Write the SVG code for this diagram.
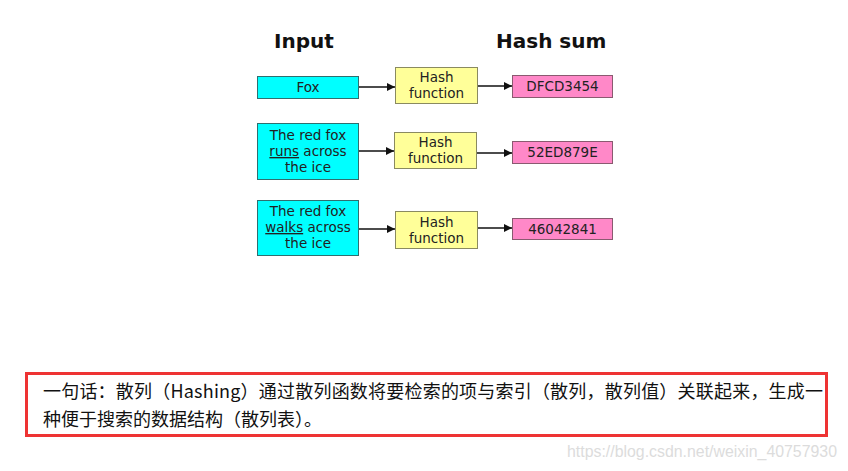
<svg xmlns="http://www.w3.org/2000/svg" width="848" height="471" viewBox="0 0 848 471">
<style>
.bg{fill:#fff}
.h{font-family:"DejaVu Sans",Verdana,sans-serif;font-weight:bold;font-size:20px;fill:#111}
.t{font-family:"DejaVu Sans",Verdana,sans-serif;font-size:13.5px;fill:#222;text-anchor:middle}
.in{fill:#00ffff;stroke:#2f6f6f;stroke-width:1}
.fn{fill:#ffff99;stroke:#8a8a60;stroke-width:1}
.out{fill:#ff88c8;stroke:#8a5a70;stroke-width:1}
.c{stroke:#111;stroke-width:1.3;fill:none;marker-end:url(#ah)}
.cn{font-family:"Noto Sans CJK SC","Microsoft YaHei",sans-serif;font-size:18px;fill:#111}
.wm{font-family:"Liberation Sans",Arial,sans-serif;font-size:16px;fill:#dcdcdc}
</style>
<defs>
<marker id="ah" viewBox="0 0 10 10" refX="10" refY="5" markerWidth="10" markerHeight="8" markerUnits="userSpaceOnUse" orient="auto">
<path d="M0,0 L10,5 L0,10 Z" fill="#111"/>
</marker>
</defs>
<rect class="bg" x="0" y="0" width="848" height="471"/>
<text class="h" x="274" y="48">Input</text>
<text class="h" x="496" y="48">Hash sum</text>
<g id="connectors">
<line class="c" x1="359" y1="87" x2="395" y2="87"/>
<line class="c" x1="478" y1="86" x2="512" y2="86"/>
<line class="c" x1="359" y1="151" x2="394" y2="151"/>
<line class="c" x1="477" y1="153" x2="512" y2="153"/>
<line class="c" x1="359" y1="229" x2="395" y2="229"/>
<line class="c" x1="477" y1="228" x2="512" y2="228"/>
</g>
<g id="in1"><rect class="in" x="257.5" y="76.5" width="101" height="22"/><text class="t" x="308" y="92">Fox</text></g>
<g id="fn1"><rect class="fn" x="395.5" y="67.5" width="82" height="36"/><text class="t" x="436.5" y="82">Hash</text><text class="t" x="436.5" y="98">function</text></g>
<g id="out1"><rect class="out" x="512.5" y="75.5" width="100" height="22"/><text class="t" x="562.5" y="91">DFCD3454</text></g>
<g id="in2"><rect class="in" x="257.5" y="123.5" width="101" height="56"/><text class="t" x="308" y="140">The red fox</text><text class="t" x="308" y="156"><tspan text-decoration="underline">runs</tspan> across</text><text class="t" x="308" y="172">the ice</text></g>
<g id="fn2"><rect class="fn" x="394.5" y="132.5" width="82" height="36"/><text class="t" x="435.5" y="147">Hash</text><text class="t" x="435.5" y="163">function</text></g>
<g id="out2"><rect class="out" x="512.5" y="141.5" width="100" height="22"/><text class="t" x="562.5" y="157">52ED879E</text></g>
<g id="in3"><rect class="in" x="257.5" y="200.5" width="101" height="55"/><text class="t" x="308" y="216">The red fox</text><text class="t" x="308" y="232"><tspan text-decoration="underline">walks</tspan> across</text><text class="t" x="308" y="248">the ice</text></g>
<g id="fn3"><rect class="fn" x="395.5" y="211.5" width="82" height="37"/><text class="t" x="436.5" y="227">Hash</text><text class="t" x="436.5" y="243">function</text></g>
<g id="out3"><rect class="out" x="512.5" y="218.5" width="100" height="21"/><text class="t" x="562.5" y="234">46042841</text></g>
<g id="note">
<rect x="26.5" y="373.5" width="800" height="62" fill="none" stroke="#ee3333" stroke-width="3"/>
<text class="cn" x="43" y="398" textLength="780" lengthAdjust="spacing">一句话：散列（Hashing）通过散列函数将要检索的项与索引（散列，散列值）关联起来，生成一</text>
<text class="cn" x="43" y="426">种便于搜索的数据结构（散列表）。</text>
</g>
<text class="wm" x="567" y="457" textLength="270" lengthAdjust="spacingAndGlyphs">https://blog.csdn.net/weixin_40757930</text>
</svg>
